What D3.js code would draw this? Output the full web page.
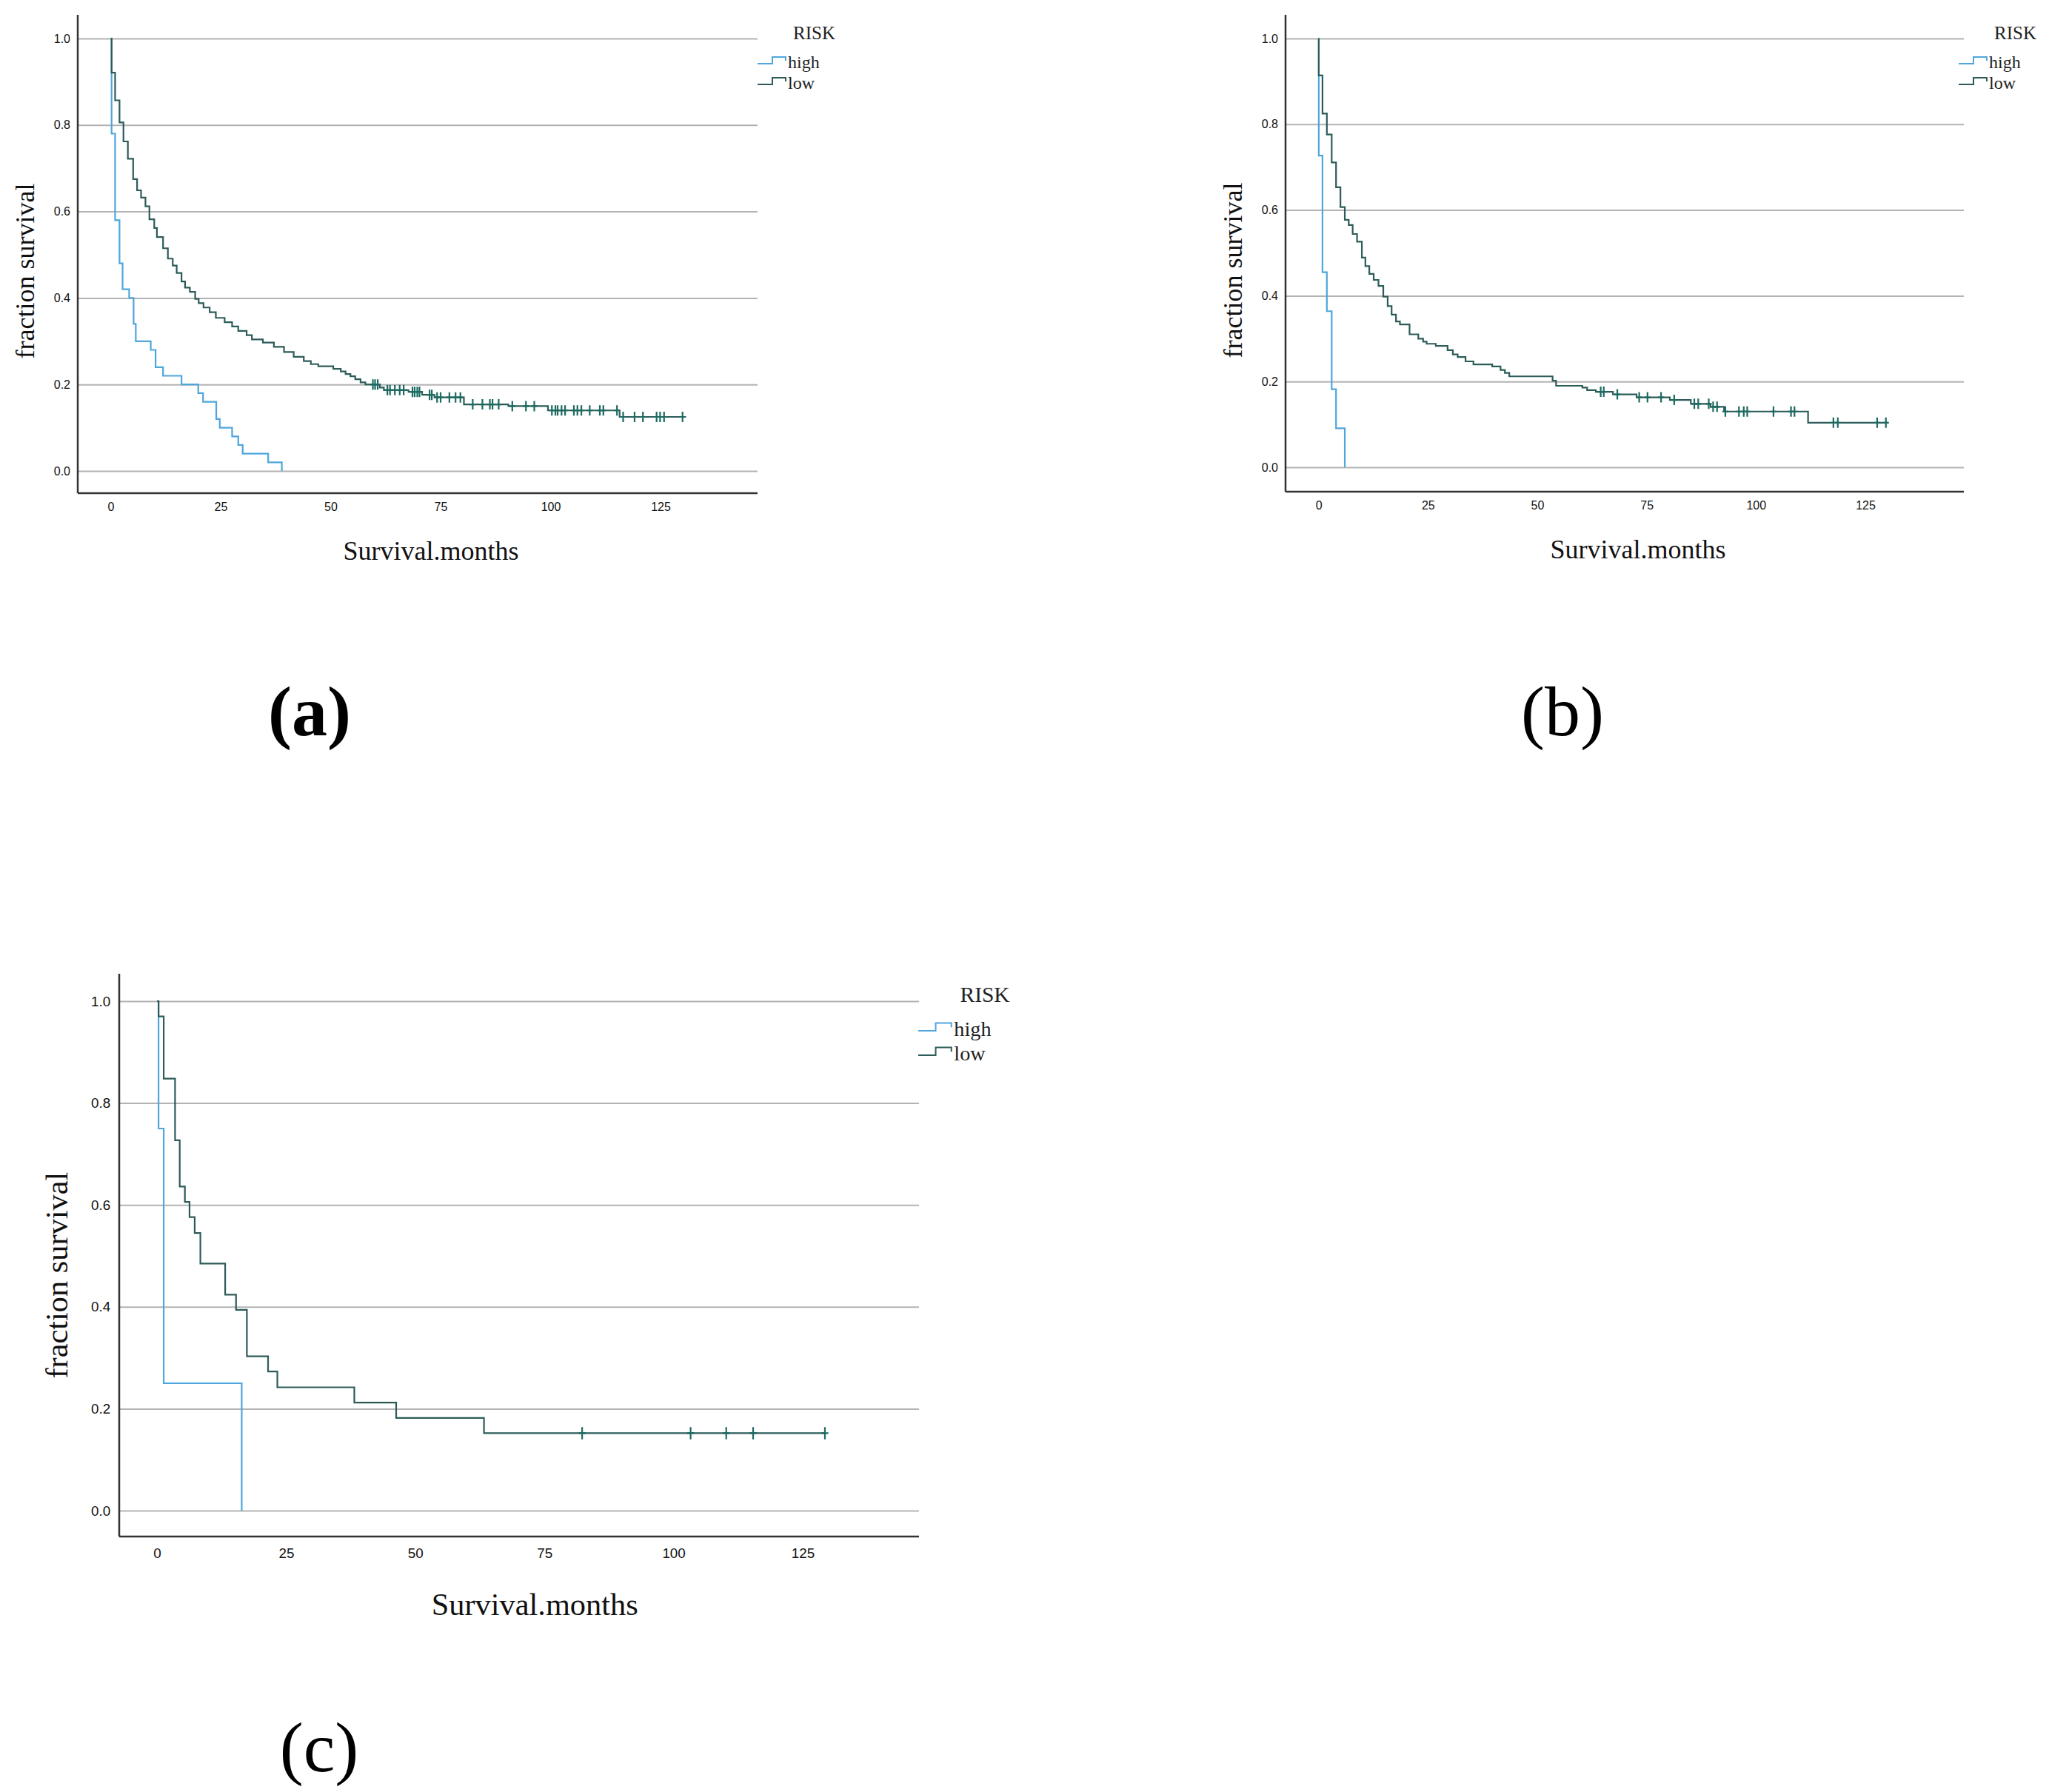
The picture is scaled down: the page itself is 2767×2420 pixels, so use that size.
<!DOCTYPE html>
<html>
<head>
<meta charset="utf-8">
<script src="https://cdn.jsdelivr.net/npm/d3@7"></script>
<style>
  html, body { margin: 0; padding: 0; background: #fff; }
  svg { display: block; }
</style>
</head>
<body>
<script>
// ---- data ----
const xTicks = [0, 25, 50, 75, 100, 125];
const yTicks = [0, 0.2, 0.4, 0.6, 0.8, 1.0];
const groups = ["high", "low"];

// panel (a)
const aHighTime = [0, 0.2, 1.0, 2.0, 2.7, 4.2, 5.2, 5.7, 9.1, 10.2, 11.9, 16.1, 19.9, 21.0, 24.0, 24.8, 27.6, 29.0, 30.0, 35.8, 38.9];
const aHighSurv = [1, 0.78, 0.58, 0.48, 0.42, 0.40, 0.34, 0.30, 0.28, 0.24, 0.22, 0.20, 0.18, 0.16, 0.12, 0.10, 0.08, 0.06, 0.04, 0.02, 0.0];
const aLowTime = [0, 0.2, 1.0, 2.0, 2.9, 3.9, 5.1, 6.0, 6.9, 7.9, 8.8, 9.9, 10.5, 11.9, 13.0, 14.1, 15.0, 16.1, 16.9, 18.0,
  19.2, 20.0, 21.1, 22.5, 23.9, 25.9, 27.6, 29.0, 30.9, 32.1, 34.6, 37.1, 39.4, 41.6, 43.9, 45.5, 47.2, 50.6, 52.3, 53.4,
  54.5, 55.6, 56.8, 57.9, 61.2, 62.1, 67.7, 70.8, 73.6, 80.3, 90.4, 99.4, 115.7, 130.8];
const aLowSurv = [1, 0.921, 0.857, 0.806, 0.762, 0.722, 0.675, 0.649, 0.632, 0.612, 0.582, 0.562, 0.541, 0.515, 0.491, 0.475, 0.458, 0.438, 0.424, 0.414,
  0.398, 0.388, 0.378, 0.367, 0.354, 0.344, 0.334, 0.324, 0.314, 0.304, 0.297, 0.287, 0.275, 0.264, 0.254, 0.247, 0.242, 0.236, 0.230, 0.224,
  0.219, 0.212, 0.205, 0.200, 0.193, 0.187, 0.183, 0.176, 0.170, 0.154, 0.150, 0.140, 0.125, 0.125];
const aLowCensor = [59.6, 60.1, 60.7, 62.9, 63.5, 64.6, 65.7, 66.6, 68.6, 69.1, 69.7, 70.2, 72.5, 73.0, 74.2, 75.0, 77.0, 78.4, 79.5,
  82.3, 84.5, 86.2, 86.8, 88.2, 91.3, 94.4, 96.3, 100.3, 101.1, 101.6, 102.5, 103.3, 105.3, 106.1, 107.0, 108.9, 111.2, 112.0, 115.1,
  116.5, 119.1, 121.0, 124.1, 124.9, 125.8, 130.0];

// panel (b)
const bHighTime = [0, 0.05, 0.9, 1.9, 3.0, 4.0, 6.0];
const bHighSurv = [1, 0.727, 0.455, 0.364, 0.182, 0.091, 0.0];
const bLowTime = [0, 0.05, 0.9, 1.9, 3.0, 4.0, 5.0, 6.0, 6.9, 7.8, 8.8, 9.9, 10.7, 11.6, 12.6, 13.7, 14.8, 15.8, 16.7, 17.7,
  18.6, 20.8, 22.8, 23.9, 24.7, 26.8, 29.5, 30.7, 31.8, 33.6, 35.4, 39.7, 41.6, 42.6, 43.6, 53.5, 54.3, 60.3, 61.4, 63.4,
  67.3, 72.7, 80.3, 85.1, 89.6, 92.7, 111.9, 130.2];
const bLowSurv = [1, 0.914, 0.825, 0.776, 0.711, 0.653, 0.607, 0.577, 0.565, 0.544, 0.526, 0.489, 0.469, 0.451, 0.437, 0.423, 0.398, 0.376, 0.356, 0.340,
  0.333, 0.310, 0.300, 0.293, 0.288, 0.283, 0.273, 0.263, 0.257, 0.247, 0.240, 0.235, 0.227, 0.220, 0.212, 0.202, 0.190, 0.186, 0.180, 0.176,
  0.170, 0.163, 0.157, 0.148, 0.141, 0.130, 0.104, 0.104];
const bLowCensor = [64.5, 65.2, 68.3, 73.3, 75.2, 78.3, 81.3, 85.9, 86.8, 89.2, 90.2, 91.1, 93.0, 96.1, 97.2, 98.0, 104.0,
  108.0, 108.8, 117.7, 118.7, 127.7, 129.7];

// panel (c)
const cHighTime = [0, 0.3, 1.3, 16.4];
const cHighSurv = [1, 0.75, 0.25, 0.0];
const cLowTime = [0, 0.3, 1.3, 3.5, 4.4, 5.4, 6.3, 7.3, 8.4, 13.2, 15.3, 17.4, 21.5, 23.3, 38.2, 46.3, 63.3, 129.3];
const cLowSurv = [1, 0.970, 0.848, 0.727, 0.636, 0.606, 0.576, 0.545, 0.485, 0.424, 0.394, 0.303, 0.273, 0.242, 0.212, 0.182, 0.152, 0.152];
const cLowCensor = [82.3, 103.3, 110.2, 115.4, 129.3];

// ---- styles ----
const colors = {high: "#4ea6dc", low: "#2c5c59"};
const censorColor = "#1d6a61";
const gridColor = "#b3b3b3";
const axisColor = "#333";
const serif = "'Liberation Serif', 'Times New Roman', serif";
const sans = "'Liberation Sans', Arial, sans-serif";

const W = 2767, H = 2420;
const svg = d3.select("body").append("svg")
    .attr("width", W)
    .attr("height", H)
    .attr("viewBox", `0 0 ${W} ${H}`);

// frame of each panel, in pixels
const panels = [
  {axisX: 105, top: 20, bottom: 666, right: 1023, x0: 149.5, x125: 892, y1: 52, y0: 636, s: 1, legendX: 1023,
   high: [aHighTime, aHighSurv], low: [aLowTime, aLowSurv], censor: aLowCensor},
  {axisX: 1736, top: 20, bottom: 664, right: 2652, x0: 1780.6, x125: 2519, y1: 52, y0: 631, s: 1, legendX: 2645,
   high: [bHighTime, bHighSurv], low: [bLowTime, bLowSurv], censor: bLowCensor},
  {axisX: 161, top: 1315, bottom: 2075, right: 1241, x0: 212, x125: 1084, y1: 1352, y0: 2040, s: 1.178, legendX: 1240,
   high: [cHighTime, cHighSurv], low: [cLowTime, cLowSurv], censor: cLowCensor}
];

const drawPanel = function(p) {
    const s = p.s;
    const g = svg.append("g");
    const x = d3.scaleLinear().domain([0, 125]).range([p.x0, p.x125]);
    const y = d3.scaleLinear().domain([0, 1]).range([p.y0, p.y1]);

    // gridlines + y tick labels
    const yAxis = g.append("g")
        .attr("transform", `translate(${p.axisX},0)`)
        .call(d3.axisLeft(y)
            .tickValues(yTicks)
            .tickFormat(d3.format(".1f"))
            .tickSize(-(p.right - p.axisX))
            .tickPadding(10 * s));
    yAxis.select(".domain").remove();
    yAxis.selectAll(".tick line").attr("stroke", gridColor).attr("stroke-width", 2);
    yAxis.selectAll(".tick text")
        .attr("font-family", sans)
        .attr("font-size", 16 * s)
        .attr("fill", "#111");

    // x tick labels
    const xAxis = g.append("g")
        .attr("transform", `translate(0,${p.bottom})`)
        .call(d3.axisBottom(x)
            .tickValues(xTicks)
            .tickSize(0)
            .tickPadding(13 * s));
    xAxis.select(".domain").remove();
    xAxis.selectAll(".tick text")
        .attr("font-family", sans)
        .attr("font-size", 16 * s)
        .attr("fill", "#111");

    // axis lines
    g.append("line")
        .attr("x1", p.axisX).attr("x2", p.axisX)
        .attr("y1", p.top).attr("y2", p.bottom)
        .attr("stroke", axisColor).attr("stroke-width", 2.5);
    g.append("line")
        .attr("x1", p.axisX).attr("x2", p.right)
        .attr("y1", p.bottom).attr("y2", p.bottom)
        .attr("stroke", axisColor).attr("stroke-width", 2.5);

    // survival curves
    const line = d3.line()
        .x(d => x(d[0]))
        .y(d => y(d[1]))
        .curve(d3.curveStepAfter);
    for (const key of groups) {
        const [T, S] = p[key];
        g.append("path")
            .datum(T.map((t, i) => [t, S[i]]))
            .attr("fill", "none")
            .attr("stroke", colors[key])
            .attr("stroke-width", 2.2)
            .attr("d", line);
    }

    // censor marks on the low curve
    const [LT, LS] = p.low;
    const survAt = t => LS[Math.max(0, d3.bisectRight(LT, t) - 1)];
    g.append("g").selectAll("path")
        .data(p.censor)
        .join("path")
        .attr("d", t => {
            const cx = x(t), cy = y(survAt(t));
            return `M${cx},${cy - 7 * s}V${cy + 7 * s}M${cx - 4 * s},${cy}H${cx + 4 * s}`;
        })
        .attr("stroke", censorColor)
        .attr("stroke-width", 2.2)
        .attr("fill", "none");

    // axis titles
    g.append("text")
        .attr("x", (p.axisX + p.right) / 2 + 18 * s)
        .attr("y", p.bottom + 90 * s)
        .attr("text-anchor", "middle")
        .attr("font-family", serif)
        .attr("font-size", 36 * s)
        .attr("fill", "#111")
        .text("Survival.months");
    const ly = (p.top + p.bottom) / 2 + 23 * s;
    const lx = p.axisX - 59 * s;
    g.append("text")
        .attr("transform", `translate(${lx},${ly}) rotate(-90)`)
        .attr("text-anchor", "middle")
        .attr("font-family", serif)
        .attr("font-size", 36 * s)
        .attr("fill", "#111")
        .text("fraction survival");

    // legend
    const lg = g.append("g").attr("transform", `translate(${p.legendX},${p.y1})`);
    lg.append("text")
        .attr("x", 48 * s).attr("y", 1 * s)
        .attr("font-family", serif)
        .attr("font-size", 25 * s)
        .attr("fill", "#222")
        .text("RISK");
    groups.forEach((key, i) => {
        const oy = i * 28 * s;
        lg.append("path")
            .attr("d", `M0,${oy + 34 * s}H${20 * s}V${oy + 25 * s}H${38 * s}V${oy + 30 * s}`)
            .attr("fill", "none")
            .attr("stroke", colors[key])
            .attr("stroke-width", 2);
        lg.append("text")
            .attr("x", 41 * s).attr("y", oy + 40 * s)
            .attr("font-family", serif)
            .attr("font-size", 24 * s)
            .attr("fill", "#222")
            .text(key);
    });
};

panels.forEach(drawPanel);

// panel letters
const letters = [
  {label: "(a)", x: 418, y: 993, bold: true},
  {label: "(b)", x: 2110, y: 993, bold: false},
  {label: "(c)", x: 431, y: 2392, bold: false}
];
svg.append("g").selectAll("text")
    .data(letters)
    .join("text")
    .attr("x", d => d.x)
    .attr("y", d => d.y)
    .attr("text-anchor", "middle")
    .attr("font-family", serif)
    .attr("font-size", 96)
    .attr("font-weight", d => d.bold ? "bold" : "normal")
    .attr("fill", "#000")
    .text(d => d.label);
</script>
</body>
</html>
